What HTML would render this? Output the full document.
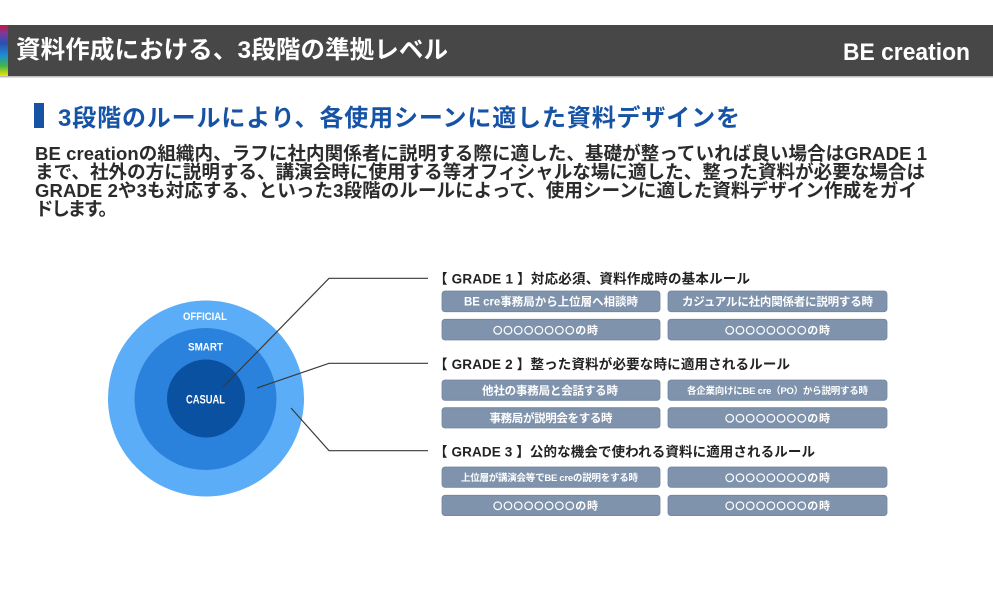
<!DOCTYPE html>
<html lang="ja">
<head>
<meta charset="utf-8">
<style>
  html,body{margin:0;padding:0;background:#fff;}
  body{width:993px;height:615px;overflow:hidden;}
  svg{display:block;}
  .jp{font-family:"Liberation Sans","Noto Sans CJK JP",sans-serif;font-weight:bold;}
  .cjk{font-family:"Noto Sans CJK JP","Noto Sans CJK SC",sans-serif;font-weight:bold;}
  .lat{font-family:"Liberation Sans",sans-serif;font-weight:bold;}
</style>
</head>
<body>
<svg width="993" height="615" viewBox="0 0 993 615" xmlns="http://www.w3.org/2000/svg">
  <defs>
    <linearGradient id="strip" x1="0" y1="0" x2="0" y2="1">
      <stop offset="0" stop-color="#cc1240"/>
      <stop offset="0.16" stop-color="#7a3a9c"/>
      <stop offset="0.36" stop-color="#2a4fb2"/>
      <stop offset="0.6" stop-color="#1e8fd2"/>
      <stop offset="0.8" stop-color="#3fb54a"/>
      <stop offset="1" stop-color="#f2e400"/>
    </linearGradient>
  </defs>
  <rect x="0" y="0" width="993" height="615" fill="#ffffff"/>

  <!-- header -->
  <rect x="0" y="25" width="993" height="51" fill="#474747"/>
  <rect x="0" y="76" width="993" height="1.5" fill="#bdbdbd"/>
  <rect x="0" y="25" width="8" height="51" fill="url(#strip)"/>
  <text class="jp" x="16" y="58" font-size="24.5" fill="#ffffff" textLength="432" lengthAdjust="spacing">資料作成における、3段階の準拠レベル</text>
  <text class="lat" x="843" y="60" font-size="24" fill="#ffffff" textLength="127" lengthAdjust="spacingAndGlyphs">BE creation</text>

  <!-- sub heading -->
  <rect x="34" y="103" width="10" height="25" fill="#1653a5"/>
  <text class="jp" x="58" y="126" font-size="24" fill="#1653a5" textLength="682" lengthAdjust="spacing">3段階のルールにより、各使用シーンに適した資料デザインを</text>

  <!-- body -->
  <g class="jp" font-size="18.5" fill="#2b2b2b">
    <text x="35" y="160" textLength="892" lengthAdjust="spacing">BE creationの組織内、ラフに社内関係者に説明する際に適した、基礎が整っていれば良い場合はGRADE 1</text>
    <text x="35" y="178.5" textLength="890" lengthAdjust="spacing">まで、社外の方に説明する、講演会時に使用する等オフィシャルな場に適した、整った資料が必要な場合は</text>
    <text x="35" y="197" textLength="882" lengthAdjust="spacing">GRADE 2や3も対応する、といった3段階のルールによって、使用シーンに適した資料デザイン作成をガイ</text>
    <text x="35" y="215.5" textLength="82" lengthAdjust="spacing">ドします。</text>
  </g>

  <!-- circles -->
  <circle cx="206" cy="398.5" r="98" fill="#5aadf6"/>
  <circle cx="205.5" cy="399" r="71" fill="#2b82dc"/>
  <circle cx="206" cy="398.5" r="39" fill="#0b51a1"/>
  <g class="lat" fill="#ffffff" text-anchor="middle">
    <text x="205" y="320" font-size="11" textLength="44" lengthAdjust="spacingAndGlyphs">OFFICIAL</text>
    <text x="205.5" y="350.7" font-size="11" textLength="35" lengthAdjust="spacingAndGlyphs">SMART</text>
    <text x="205.5" y="403.3" font-size="11.5" textLength="39" lengthAdjust="spacingAndGlyphs">CASUAL</text>
  </g>

  <!-- connectors -->
  <g fill="none" stroke="#3a3a3a" stroke-width="1.2">
    <polyline points="223,387 329,278.3 428,278.3"/>
    <polyline points="257,388 329,363.3 428,363.3"/>
    <polyline points="291,408 329,450.7 428,450.7"/>
  </g>

  <!-- grade headings -->
  <g class="jp" font-size="13.5" fill="#222222">
    <text x="434" y="283.5" textLength="316" lengthAdjust="spacing">【 GRADE 1 】対応必須、資料作成時の基本ルール</text>
    <text x="434" y="369" textLength="356" lengthAdjust="spacing">【 GRADE 2 】整った資料が必要な時に適用されるルール</text>
    <text x="434" y="456.5" textLength="381" lengthAdjust="spacing">【 GRADE 3 】公的な機会で使われる資料に適用されるルール</text>
  </g>

  <!-- boxes -->
  <g fill="#7f93ad" stroke="#71859f" stroke-width="0.8">
    <rect x="442" y="291" width="218" height="20.7" rx="3"/>
    <rect x="668" y="291" width="219" height="20.7" rx="3"/>
    <rect x="442" y="319.3" width="218" height="20.7" rx="3"/>
    <rect x="668" y="319.3" width="219" height="20.7" rx="3"/>

    <rect x="442" y="380" width="218" height="20.3" rx="3"/>
    <rect x="668" y="380" width="219" height="20.3" rx="3"/>
    <rect x="442" y="407.7" width="218" height="20.3" rx="3"/>
    <rect x="668" y="407.7" width="219" height="20.3" rx="3"/>

    <rect x="442" y="467" width="218" height="20.3" rx="3"/>
    <rect x="668" y="467" width="219" height="20.3" rx="3"/>
    <rect x="442" y="495.3" width="218" height="20.3" rx="3"/>
    <rect x="668" y="495.3" width="219" height="20.3" rx="3"/>
  </g>

  <g class="jp" fill="#ffffff" text-anchor="middle" font-size="11.5">
    <text x="551" y="305.6" textLength="174" lengthAdjust="spacing">BE cre事務局から上位層へ相談時</text>
    <text x="777.5" y="305.6" textLength="191" lengthAdjust="spacing">カジュアルに社内関係者に説明する時</text>
    <text x="550" y="394.4" textLength="136" lengthAdjust="spacing">他社の事務局と会話する時</text>
    <text x="777.5" y="393.8" font-size="9.5" textLength="181" lengthAdjust="spacing">各企業向けにBE cre（PO）から説明する時</text>
    <text x="551" y="422.1" textLength="123" lengthAdjust="spacing">事務局が説明会をする時</text>
    <text x="549.5" y="480.8" font-size="9.5" textLength="177" lengthAdjust="spacing">上位層が講演会等でBE creの説明をする時</text>
  </g>
  <g class="cjk" fill="#ffffff" text-anchor="middle" font-size="11">
    <text x="545.5" y="333.9" textLength="105" lengthAdjust="spacing"><tspan font-size="9.5">〇〇〇〇〇〇〇〇</tspan>の時</text>
    <text x="777.5" y="333.9" textLength="105" lengthAdjust="spacing"><tspan font-size="9.5">〇〇〇〇〇〇〇〇</tspan>の時</text>
    <text x="777.5" y="422.1" textLength="105" lengthAdjust="spacing"><tspan font-size="9.5">〇〇〇〇〇〇〇〇</tspan>の時</text>
    <text x="777.5" y="481.4" textLength="105" lengthAdjust="spacing"><tspan font-size="9.5">〇〇〇〇〇〇〇〇</tspan>の時</text>
    <text x="545.5" y="509.7" textLength="105" lengthAdjust="spacing"><tspan font-size="9.5">〇〇〇〇〇〇〇〇</tspan>の時</text>
    <text x="777.5" y="509.7" textLength="105" lengthAdjust="spacing"><tspan font-size="9.5">〇〇〇〇〇〇〇〇</tspan>の時</text>
  </g>
</svg>
</body>
</html>
